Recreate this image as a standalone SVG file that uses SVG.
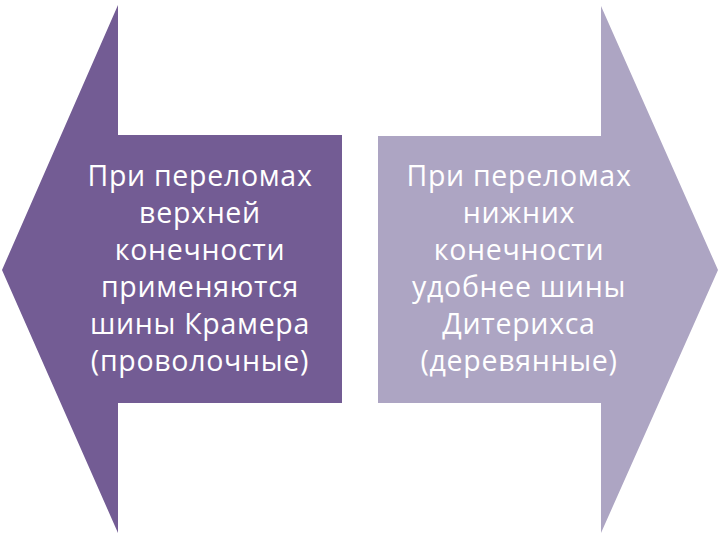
<svg xmlns="http://www.w3.org/2000/svg" width="720" height="540" viewBox="0 0 720 540">
<style>
.t{font-family:"Open Sans","DejaVu Sans",sans-serif;font-size:28.5px;letter-spacing:0.7px;fill:#ffffff;text-anchor:middle}
</style>
<rect width="720" height="540" fill="#ffffff"/>
<g id="left-arrow">
<polygon points="2,270 118,5 118,135 342,135 342,403 118,403 118,533" fill="#735C94"/>
<text class="t"><tspan x="200" y="186">При переломах</tspan><tspan x="200" y="223">верхней</tspan><tspan x="200" y="260">конечности</tspan><tspan x="200" y="297">применяются</tspan><tspan x="200" y="334">шины Крамера</tspan><tspan x="200" y="371">(проволочные)</tspan></text>
</g>
<g id="right-arrow">
<polygon points="718,270 601,6 601,136 378,136 378,403 601,403 601,533" fill="#ADA5C3"/>
<text class="t"><tspan x="519" y="186">При переломах</tspan><tspan x="519" y="223">нижних</tspan><tspan x="519" y="260">конечности</tspan><tspan x="519" y="297">удобнее шины</tspan><tspan x="519" y="334">Дитерихса</tspan><tspan x="519" y="371">(деревянные)</tspan></text>
</g>
<g id="connectors"></g>
</svg>
